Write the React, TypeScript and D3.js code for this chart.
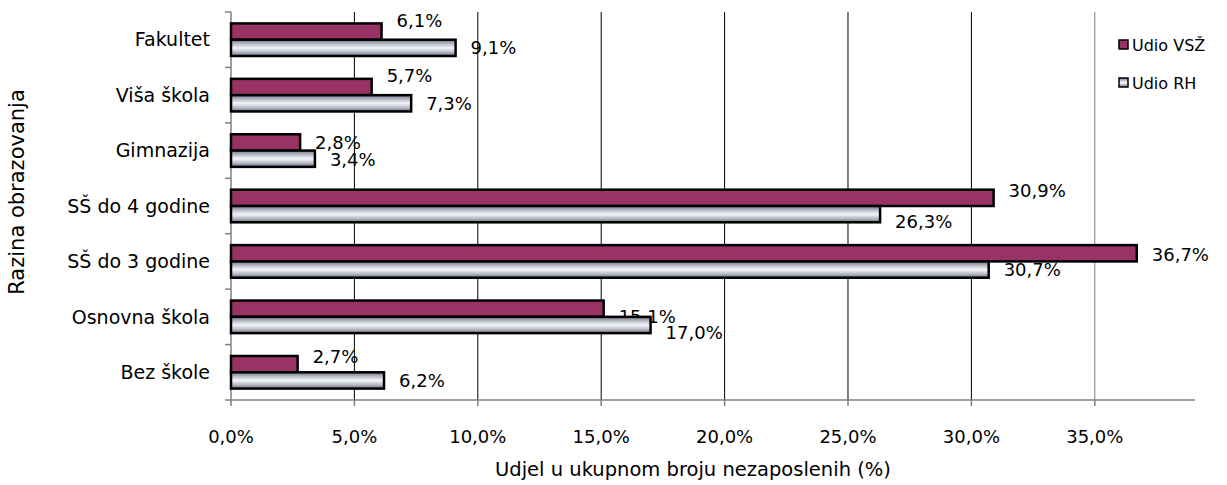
import React from 'react';
import * as d3 from 'd3';

const categories = ['Fakultet', 'Viša škola', 'Gimnazija', 'SŠ do 4 godine', 'SŠ do 3 godine', 'Osnovna škola', 'Bez škole'];
const seriesNames = ['Udio VSŽ', 'Udio RH'];
const udioVSZ = [6.1, 5.7, 2.8, 30.9, 36.7, 15.1, 2.7];
const udioRH = [9.1, 7.3, 3.4, 26.3, 30.7, 17.0, 6.2];
const xTicks = [0, 5, 10, 15, 20, 25, 30, 35];
// vertical nudges of the value labels, as Excel placed them
const nudgeVSZ = [-11, -11, 0, -7, 1, 8, -7];
const nudgeRH = [0, 0, 1, 8, 0, 8, 0];

const W = 1227;
const H = 485;
const left = 231;
const right = 1195;
const top = 12;
const bottom = 400;
const font = '"DejaVu Sans", Verdana, sans-serif';

const fmt = (v: number) => v.toFixed(1).replace('.', ',') + '%';

const App = () => {
    const x = d3.scaleLinear().domain([0, 39.06]).range([left, right]);
    const y = d3.scaleBand<string>().domain(categories).range([top, bottom]);
    const inner = d3.scaleBand<string>().domain(seriesNames).range([0, y.bandwidth()]).paddingOuter(0.7).paddingInner(0);

    const series = [udioVSZ, udioRH];
    const nudges = [nudgeVSZ, nudgeRH];
    const fills = ['#993366', 'url(#silver)'];

    return (
        <svg width={W} height={H} style={{ position: 'absolute', left: 0, top: 0 }}>
            <defs>
                <linearGradient id="silver" x1="0" y1="0" x2="0" y2="1">
                    <stop offset="0" stopColor="#6f7384" />
                    <stop offset="0.25" stopColor="#b8bbc6" />
                    <stop offset="0.5" stopColor="#f4f4f7" />
                    <stop offset="0.75" stopColor="#bcbfca" />
                    <stop offset="1" stopColor="#6a6e7e" />
                </linearGradient>
            </defs>
            <rect x={0} y={0} width={W} height={H} fill="#fff" />

            {/* gridlines */}
            {xTicks.slice(1).map(t => (
                <line key={t} x1={x(t)} x2={x(t)} y1={top} y2={bottom}
                    stroke={t === 35 ? '#808080' : '#000'} strokeWidth={1} />
            ))}

            {/* axes */}
            <line x1={left} x2={left} y1={top} y2={bottom} stroke="#808080" strokeWidth={1.5} />
            <line x1={left} x2={right} y1={bottom} y2={bottom} stroke="#808080" strokeWidth={1.5} />
            {d3.range(categories.length + 1).map(i => {
                const yy = top + i * y.bandwidth();
                return <line key={i} x1={left - 6} x2={left} y1={yy} y2={yy} stroke="#808080" strokeWidth={1.5} />;
            })}
            {xTicks.map(t => (
                <line key={t} x1={x(t)} x2={x(t)} y1={bottom} y2={bottom + 6} stroke="#808080" strokeWidth={1.5} />
            ))}

            {/* bars */}
            {series.map((vals, si) => categories.map((c, i) => {
                const by = (y(c) ?? 0) + (inner(seriesNames[si]) ?? 0);
                const bh = inner.bandwidth();
                return (
                    <g key={c + si}>
                        <rect x={x(0)} y={by} width={x(vals[i]) - x(0)} height={bh}
                            fill={fills[si]} stroke="#000" strokeWidth={2.5} />
                        <text x={x(vals[i]) + 15} y={by + bh / 2 + nudges[si][i]} dy="0.35em"
                            fontFamily={font} fontSize={18} fill="#000">{fmt(vals[i])}</text>
                    </g>
                );
            }))}

            {/* category labels */}
            {categories.map(c => (
                <text key={c} x={210} y={(y(c) ?? 0) + y.bandwidth() / 2} dy="0.35em" textAnchor="end"
                    fontFamily={font} fontSize={19} fill="#000">{c}</text>
            ))}

            {/* x tick labels */}
            {xTicks.map(t => (
                <text key={t} x={x(t)} y={437} dy="0.35em" textAnchor="middle"
                    fontFamily={font} fontSize={18} fill="#000">{fmt(t)}</text>
            ))}

            <text x={693} y={469} dy="0.35em" textAnchor="middle" fontFamily={font} fontSize={19.5} fill="#000">
                Udjel u ukupnom broju nezaposlenih (%)
            </text>
            <text transform="translate(17,192) rotate(-90)" dy="0.35em" textAnchor="middle"
                fontFamily={font} fontSize={21} fill="#000">Razina obrazovanja</text>

            {/* legend */}
            {seriesNames.map((s, si) => (
                <g key={s} transform={`translate(1119,${45 + si * 38})`}>
                    <rect x={0} y={-5} width={9} height={9} fill={fills[si]} stroke="#000" strokeWidth={1.5} />
                    <text x={13} y={0} dy="0.35em" fontFamily={font} fontSize={16} fill="#000">{s}</text>
                </g>
            ))}
        </svg>
    );
};

export default App;
